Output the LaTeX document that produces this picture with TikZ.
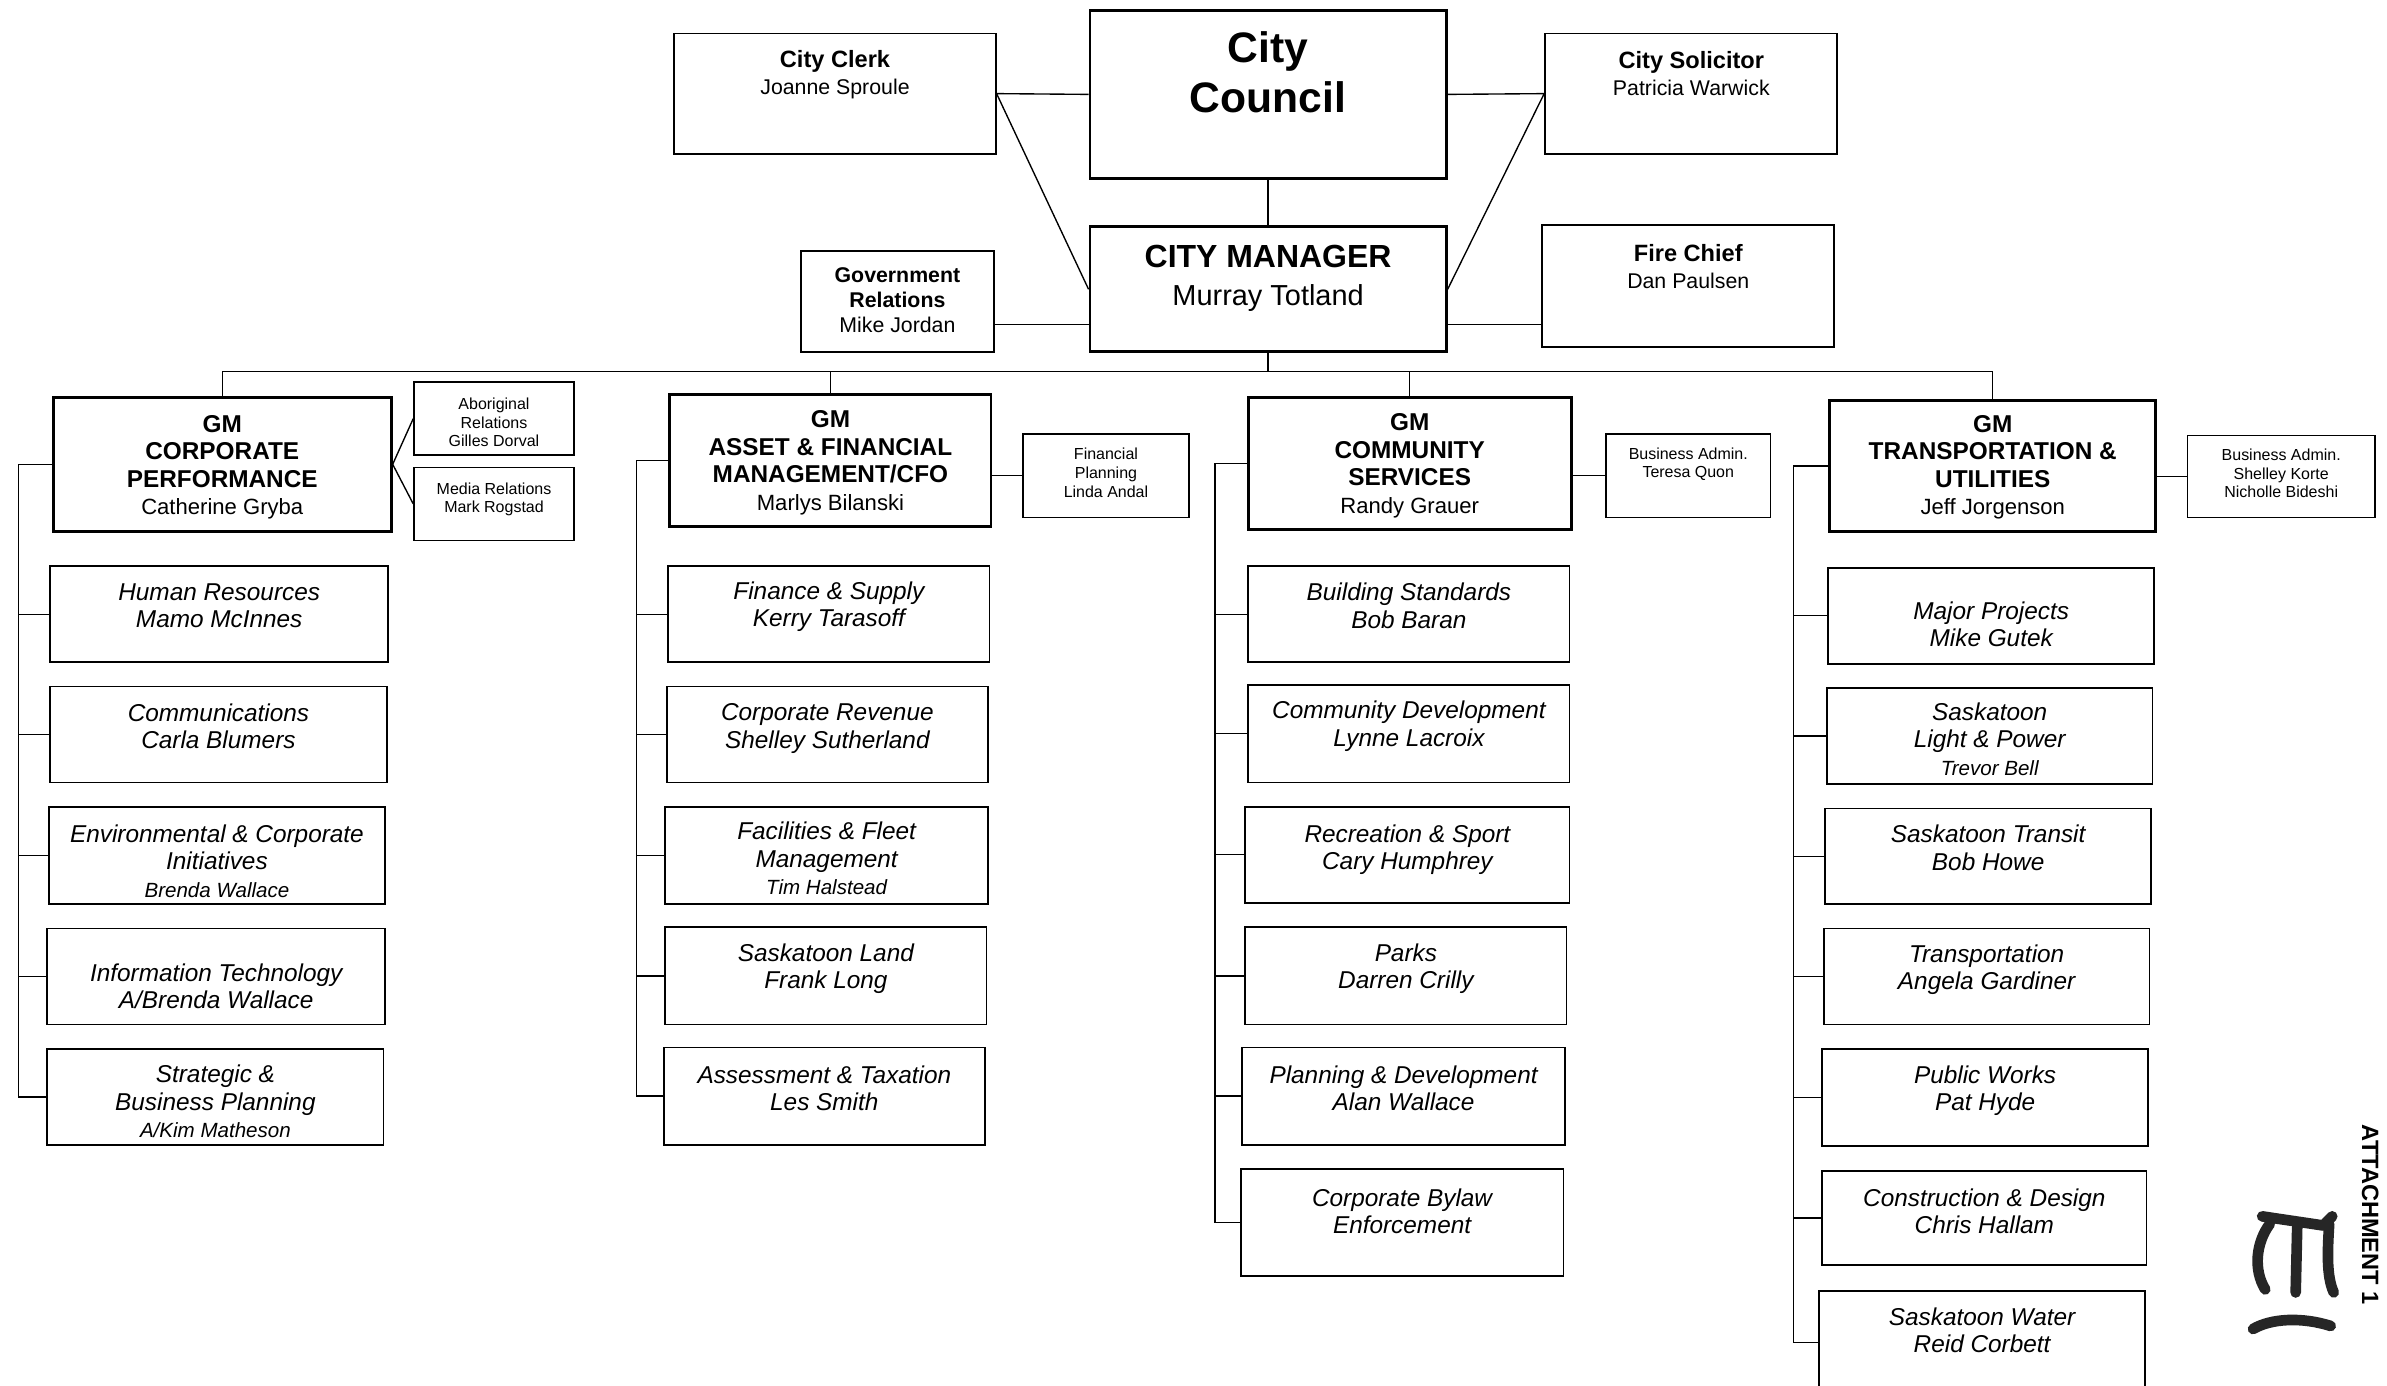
\documentclass[tikz,border=0pt]{standalone}
\usepackage{fontspec}
\setmainfont{Liberation Sans}

% one box: name, box style, x1, y1, x2, y2, text centre y, text style, text
\newcommand\orgbox[9]{%
  \node[#2, minimum width={(#5-#3)*1pt}, minimum height={(#6-#4)*1pt}] (#1)
    at ({(#3+#5)/2},{(#4+#6)/2}) {};
  \node[#8] (#1-t) at ({(#3+#5)/2},#7) {#9};
}
\newcommand\ttl[1]{{\fontsize{15.5}{18}\selectfont\bfseries #1}}
\newcommand\mgrh[1]{{\fontsize{21}{25}\selectfont\bfseries #1}}
\newcommand\gmh[1]{{\fontsize{16}{18}\selectfont\bfseries #1}}
\newcommand\sub[1]{{\fontsize{13.5}{18}\selectfont #1}}

\begin{document}
\begin{tikzpicture}[x=1pt,y=-1pt,
  base/.style={draw, rectangle, inner sep=0pt, fill=white},
  topbox/.style={base, line width=1.3pt},
  headbox/.style={base, line width=1.9pt},
  gmbox/.style={base, line width=1.9pt},
  sidebox/.style={base, line width=1.1pt},
  deptbox/.style={base, line width=1.1pt},
  txt/.style={align=center, inner sep=0pt},
  topt/.style={txt, font=\fontsize{14}{18}\selectfont},
  councilt/.style={txt, font=\fontsize{28}{33}\selectfont\bfseries},
  mgrt/.style={txt, font=\fontsize{19}{25}\selectfont},
  govt/.style={txt, font=\fontsize{14}{16.5}\selectfont},
  gmt/.style={txt, font=\fontsize{14.5}{18}\selectfont},
  smallt/.style={txt, font=\fontsize{10.5}{12.3}\selectfont},
  deptt/.style={txt, font=\fontsize{16}{18}\selectfont\itshape},
  link/.style={line width=0.9pt},
  ink/.style={line width=7pt, black!85, line cap=round, line join=round}]

\useasboundingbox (0,0) rectangle (1568,910);
\fill[white] (0,0) rectangle (1568,910);
\clip (0,0) rectangle (1568,910);

% ---- council level ----
\orgbox{council}{headbox}{716}{7}{950}{117}{47.5}{councilt}{City\\Council}
\orgbox{clerk}{topbox}{443}{22}{654}{101}{49}{topt}{\ttl{City Clerk}\\Joanne Sproule}
\orgbox{solicitor}{topbox}{1015}{22}{1207}{101}{48.5}{topt}{\ttl{City Solicitor}\\Patricia Warwick}
\orgbox{manager}{headbox}{716}{149}{950}{231}{183}{mgrt}{\mgrh{CITY MANAGER}\\Murray Totland}
\orgbox{govrel}{topbox}{526}{165}{653}{231}{197}{govt}{\textbf{Government}\\\textbf{Relations}\\Mike Jordan}
\orgbox{fire}{topbox}{1013}{148}{1205}{228}{175}{topt}{\ttl{Fire Chief}\\Dan Paulsen}

% ---- general managers ----
\orgbox{cp}{gmbox}{35}{261}{257}{349}{307}{gmt}{\gmh{GM}\\\gmh{CORPORATE}\\\gmh{PERFORMANCE}\\Catherine Gryba}
\orgbox{afm}{gmbox}{440}{259}{651}{346}{304}{gmt}{\gmh{GM}\\\gmh{ASSET \& FINANCIAL}\\\gmh{MANAGEMENT/CFO}\\Marlys Bilanski}
\orgbox{cs}{gmbox}{820}{261}{1032}{348}{306}{gmt}{\gmh{GM}\\\gmh{COMMUNITY}\\\gmh{SERVICES}\\Randy Grauer}
\orgbox{tu}{gmbox}{1202}{263}{1416}{349}{307}{gmt}{\gmh{GM}\\\gmh{TRANSPORTATION \&}\\\gmh{UTILITIES}\\Jeff Jorgenson}

% ---- staff boxes beside the general managers ----
\orgbox{abor}{sidebox}{272}{251}{377}{299}{277.5}{smallt}{Aboriginal\\Relations\\Gilles Dorval}
\orgbox{media}{sidebox}{272}{307}{377}{355}{328}{smallt}{Media Relations\\Mark Rogstad}
\orgbox{finplan}{sidebox}{672}{285}{781}{340}{310.5}{smallt}{Financial\\Planning\\Linda Andal}
\orgbox{bacs}{sidebox}{1055}{285}{1163}{340}{305}{smallt}{Business Admin.\\Teresa Quon}
\orgbox{batu}{sidebox}{1437}{286}{1560}{340}{311}{smallt}{Business Admin.\\Shelley Korte\\Nicholle Bideshi}

% ---- Corporate Performance departments ----
\orgbox{hr}{deptbox}{33}{372}{255}{435}{398}{deptt}{Human Resources\\Mamo McInnes}
\orgbox{comm}{deptbox}{33}{451}{254}{514}{477}{deptt}{Communications\\Carla Blumers}
\orgbox{env}{deptbox}{32}{530}{253}{594}{565.5}{deptt}{Environmental \& Corporate\\Initiatives\\\sub{Brenda Wallace}}
\orgbox{it}{deptbox}{31}{610}{253}{673}{648}{deptt}{Information Technology\\A/Brenda Wallace}
\orgbox{sbp}{deptbox}{31}{689}{252}{752}{723.5}{deptt}{Strategic \&\\Business Planning\\\sub{A/Kim Matheson}}

% ---- Asset & Financial Management departments ----
\orgbox{fs}{deptbox}{439}{372}{650}{435}{398.5}{deptt}{Finance \& Supply\\Kerry Tarasoff}
\orgbox{cr}{deptbox}{438}{451}{649}{514}{478.5}{deptt}{Corporate Revenue\\Shelley Sutherland}
\orgbox{ff}{deptbox}{437}{530}{649}{594}{564}{deptt}{Facilities \& Fleet\\Management\\\sub{Tim Halstead}}
\orgbox{sl}{deptbox}{437}{609}{648}{673}{636.5}{deptt}{Saskatoon Land\\Frank Long}
\orgbox{at}{deptbox}{436}{688}{647}{752}{715}{deptt}{Assessment \& Taxation\\Les Smith}

% ---- Community Services departments ----
\orgbox{bs}{deptbox}{820}{372}{1031}{435}{398}{deptt}{Building Standards\\Bob Baran}
\orgbox{cdev}{deptbox}{820}{450}{1031}{514}{477}{deptt}{Community Development\\Lynne Lacroix}
\orgbox{rs}{deptbox}{818}{530}{1031}{593}{558}{deptt}{Recreation \& Sport\\Cary Humphrey}
\orgbox{pk}{deptbox}{818}{609}{1029}{673}{636.5}{deptt}{Parks\\Darren Crilly}
\orgbox{pd}{deptbox}{816}{688}{1028}{752}{715}{deptt}{Planning \& Development\\Alan Wallace}
\orgbox{cb}{deptbox}{815}{768}{1027}{838}{795.5}{deptt}{Corporate Bylaw\\Enforcement}

% ---- Transportation & Utilities departments ----
\orgbox{mp}{deptbox}{1201}{373}{1415}{436}{410}{deptt}{Major Projects\\Mike Gutek}
\orgbox{slp}{deptbox}{1200}{452}{1414}{515}{485.5}{deptt}{Saskatoon\\Light \& Power\\\sub{Trevor Bell}}
\orgbox{st}{deptbox}{1199}{531}{1413}{594}{557}{deptt}{Saskatoon Transit\\Bob Howe}
\orgbox{tr}{deptbox}{1198}{610}{1412}{673}{637}{deptt}{Transportation\\Angela Gardiner}
\orgbox{pw}{deptbox}{1197}{689}{1411}{753}{716.5}{deptt}{Public Works\\Pat Hyde}
\orgbox{cnd}{deptbox}{1197}{769}{1410}{831}{795.5}{deptt}{Construction \& Design\\Chris Hallam}
\orgbox{sw}{deptbox}{1195}{848}{1409}{916}{874}{deptt}{Saskatoon Water\\Reid Corbett}

% ---- reporting lines at the top ----
\draw[link] (clerk.east) -- (council.west);
\draw[link] (solicitor.west) -- (council.east);
\draw[link] (clerk.east) -- (manager.west);
\draw[link] (solicitor.west) -- (manager.east);
\draw[link] (council.south) -- (manager.north);
\draw[link] (govrel.east |- 0,213) -- (manager.west |- 0,213);
\draw[link] (manager.east |- 0,213) -- (fire.west |- 0,213);

% ---- bus to the general managers ----
\coordinate (busL) at (cp.north |- 0,244);
\coordinate (busR) at (tu.north |- 0,244);
\draw[link] (manager.south) -- (manager.south |- busL);
\draw[link] (busL) -- (busR);
\draw[link] (cp.north) -- (busL);
\draw[link] (afm.north) -- (afm.north |- busL);
\draw[link] (cs.north) -- (cs.north |- busL);
\draw[link] (tu.north) -- (busR);

% ---- staff links ----
\draw[link] (cp.east) -- (abor.west);
\draw[link] (cp.east) -- (media.west);
\draw[link] (afm.east |- finplan.west) -- (finplan.west);
\draw[link] (cs.east |- bacs.west) -- (bacs.west);
\draw[link] (tu.east |- batu.west) -- (batu.west);

% ---- department spines ----
\coordinate (cpsp) at (12,0);
\coordinate (afsp) at (418,0);
\coordinate (cssp) at (798,0);
\coordinate (tusp) at (1178,0);
\draw[link] (cp.west) -- (cp.west -| cpsp) -- (cpsp |- sbp.west) -- (sbp.west);
\foreach \n in {hr,comm,env,it} \draw[link] (cpsp |- \n.west) -- (\n.west);
\draw[link] (afm.west) -- (afm.west -| afsp) -- (afsp |- at.west) -- (at.west);
\foreach \n in {fs,cr,ff,sl} \draw[link] (afsp |- \n.west) -- (\n.west);
\draw[link] (cs.west) -- (cs.west -| cssp) -- (cssp |- cb.west) -- (cb.west);
\foreach \n in {bs,cdev,rs,pk,pd} \draw[link] (cssp |- \n.west) -- (\n.west);
\draw[link] (tu.west) -- (tu.west -| tusp) -- (tusp |- sw.west) -- (sw.west);
\foreach \n in {mp,slp,st,tr,pw,cnd} \draw[link] (tusp |- \n.west) -- (\n.west);

% ---- margin note and handwritten mark ----
\node[rotate=-90, inner sep=0pt, font=\fontsize{15.5}{18}\selectfont\bfseries] (attach) at (1557,798) {ATTACHMENT 1};
\draw[ink] (1486,799) .. controls (1499,801) and (1513,803) .. (1526,805) -- (1532,799);
\draw[ink] (1491,804) .. controls (1482,816) and (1480,834) .. (1488,847);
\draw[ink] (1509,806) -- (1508,849);
\draw[ink] (1530,804) .. controls (1529,821) and (1528,838) .. (1533,849);
\draw[ink] (1480,873) .. controls (1492,866) and (1512,865) .. (1531,871);
\end{tikzpicture}
\end{document}
